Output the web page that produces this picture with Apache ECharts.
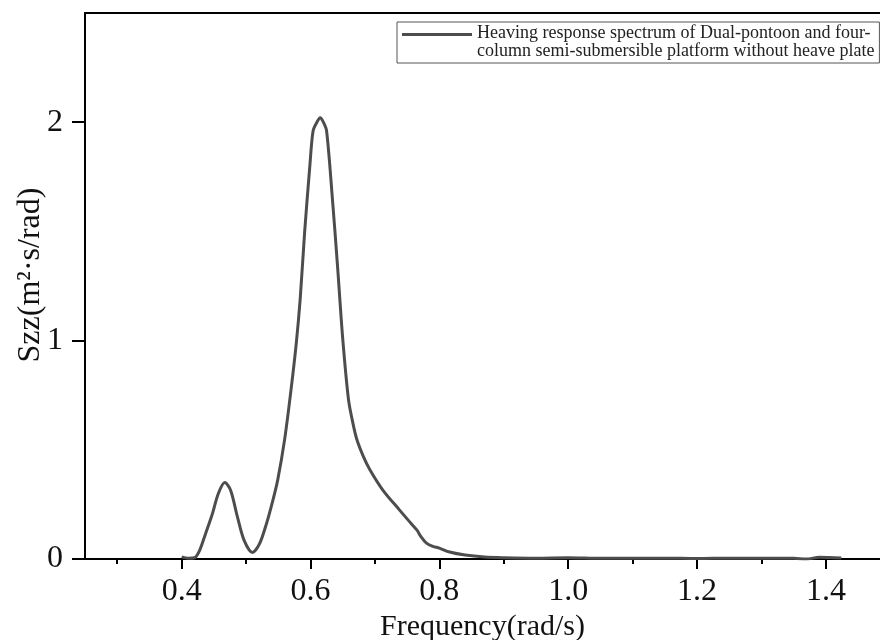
<!DOCTYPE html>
<html>
<head>
<meta charset="utf-8">
<script src="https://cdn.jsdelivr.net/npm/echarts@6/dist/echarts.min.js"></script>
<style>
  html, body { margin: 0; padding: 0; background: #fff; }
  #chart { width: 880px; height: 640px; }
</style>
</head>
<body>
<div id="chart"></div>
<script>
// frequency (rad/s) and heave response Szz
var freq = [0.400, 0.410, 0.420, 0.428, 0.437, 0.447, 0.457, 0.467, 0.476, 0.486,
  0.497, 0.510, 0.521, 0.532, 0.540, 0.549, 0.560, 0.570, 0.578, 0.584,
  0.591, 0.599, 0.604, 0.610, 0.615, 0.620, 0.625, 0.634, 0.642, 0.650,
  0.659, 0.666, 0.672, 0.682, 0.692, 0.712, 0.738, 0.754, 0.765, 0.772,
  0.780, 0.790, 0.800, 0.816, 0.840, 0.870, 0.900, 0.950, 1.000, 1.050,
  1.100, 1.150, 1.200, 1.250, 1.300, 1.350, 1.370, 1.390, 1.405, 1.424];
var szz = [0.010, 0.004, 0.006, 0.040, 0.115, 0.200, 0.300, 0.350, 0.315, 0.200,
  0.085, 0.030, 0.070, 0.165, 0.250, 0.360, 0.550, 0.780, 0.990, 1.190,
  1.500, 1.800, 1.960, 2.000, 2.020, 2.000, 1.960, 1.650, 1.340, 1.010,
  0.730, 0.620, 0.547, 0.470, 0.410, 0.317, 0.225, 0.170, 0.133, 0.100,
  0.073, 0.058, 0.050, 0.032, 0.018, 0.009, 0.006, 0.004, 0.006, 0.003,
  0.004, 0.004, 0.002, 0.004, 0.004, 0.003, 0.000, 0.008, 0.007, 0.005];
var xTicks = [0.4, 0.6, 0.8, 1.0, 1.2, 1.4];
var xMinorTicks = [0.3, 0.5, 0.7, 0.9, 1.1, 1.3];
var yTicks = [0, 1, 2];
var seriesName = 'Heaving response spectrum of Dual-pontoon and four-\ncolumn semi-submersible platform without heave plate';

var serif = '"Liberation Serif", "Times New Roman", serif';
var chart = echarts.init(document.getElementById('chart'));

var points = freq.map(function (f, i) { return [f, szz[i]]; });

var option = {
  backgroundColor: '#fff',
  animation: false,
  grid: { left: 85, right: 0, top: 13, bottom: 81, outerBoundsMode: 'none' },
  legend: {
    left: 397,
    top: 22,
    padding: [2, 5, 3, 5],
    borderColor: '#555',
    borderWidth: 1,
    itemWidth: 70,
    itemHeight: 36,
    // line sits on the first text line
    icon: 'path://M0,9H70V12H0Z M0,0L0.01,0L0,0.01Z M0,36L0.01,36L0,35.99Z',
    itemStyle: { color: '#4d4d4d', borderWidth: 0 },
    textStyle: { fontFamily: serif, fontSize: 18, lineHeight: 18, color: '#222' },
    data: [seriesName]
  },
  xAxis: [
    {
      type: 'value',
      position: 'bottom',
      min: 0.25,
      max: 1.484,
      name: 'Frequency(rad/s)',
      nameLocation: 'middle',
      nameGap: 53,
      nameMoveOverlap: false,
      nameTextStyle: { fontFamily: serif, fontSize: 30, color: '#111' },
      axisLine: { show: true, lineStyle: { color: '#000', width: 2 } },
      axisTick: { show: true, length: 10, lineStyle: { width: 2, color: '#000' }, customValues: xTicks },
      axisLabel: {
        margin: 17, fontFamily: serif, fontSize: 32, color: '#111',
        customValues: xTicks,
        formatter: function (v) { return v.toFixed(1); }
      },
      splitLine: { show: false }
    },
    {
      // minor ticks
      type: 'value',
      position: 'bottom',
      min: 0.25,
      max: 1.484,
      axisLine: { show: false },
      axisTick: { show: true, length: 5, lineStyle: { width: 2, color: '#000' }, customValues: xMinorTicks },
      axisLabel: { show: false },
      splitLine: { show: false }
    },
    {
      // top frame line
      type: 'value',
      position: 'top',
      min: 0.25,
      max: 1.484,
      axisLine: { show: true, lineStyle: { color: '#000', width: 2 } },
      axisTick: { show: false },
      axisLabel: { show: false },
      splitLine: { show: false }
    }
  ],
  yAxis: {
    type: 'value',
    min: 0,
    max: 2.5,
    name: 'Szz(m²·s/rad)',
    nameLocation: 'middle',
    nameGap: 38,
    nameMoveOverlap: false,
    nameTextStyle: { fontFamily: serif, fontSize: 32, color: '#111', padding: [0, 0, 0, 22] },
    axisLine: { show: true, lineStyle: { color: '#000', width: 2 } },
    axisTick: { show: true, length: 13, lineStyle: { width: 2, color: '#000' }, customValues: yTicks },
    axisLabel: { margin: 22, fontFamily: serif, fontSize: 32, color: '#111', customValues: yTicks },
    splitLine: { show: false }
  },
  series: [
    {
      name: seriesName,
      type: 'line',
      xAxisIndex: 0,
      data: points,
      smooth: 0.3,
      symbol: 'none',
      color: '#4d4d4d',
      lineStyle: { color: '#4d4d4d', width: 3 }
    }
  ]
};

chart.setOption(option);
</script>
</body>
</html>
